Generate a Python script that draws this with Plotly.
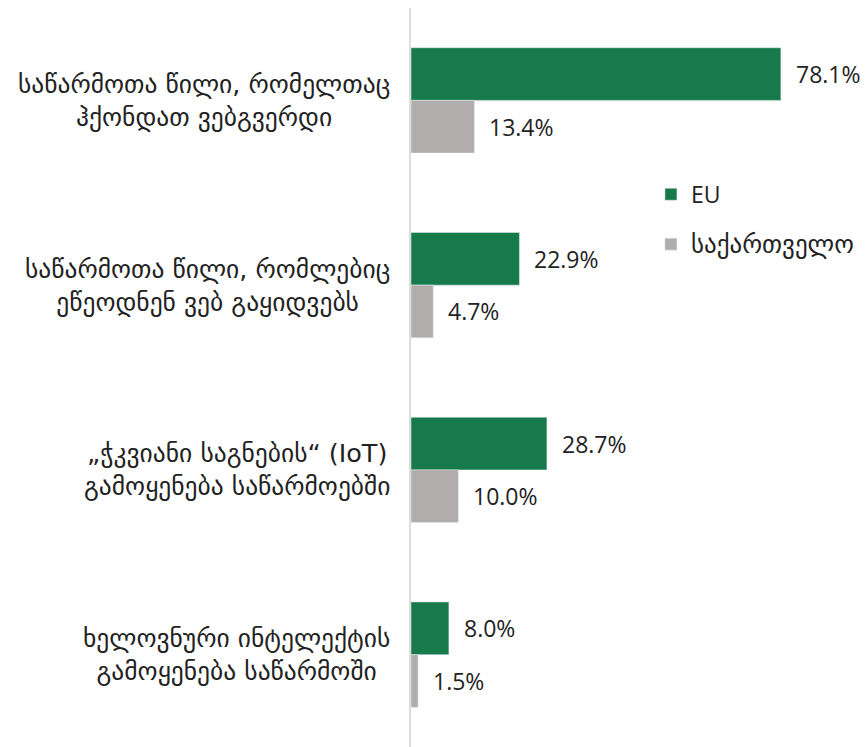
import plotly.graph_objects as go

categories = [
    "საწარმოთა წილი, რომელთაც<br>ჰქონდათ ვებგვერდი",
    "საწარმოთა წილი, რომლებიც<br>ეწეოდნენ ვებ გაყიდვებს",
    "„ჭკვიანი საგნების“ (IoT)<br>გამოყენება საწარმოებში",
    "ხელოვნური ინტელექტის<br>გამოყენება საწარმოში",
]
eu_values = [78.1, 22.9, 28.7, 8.0]
geo_values = [13.4, 4.7, 10.0, 1.5]
series_names = ["EU", "საქართველო"]

GREEN = "#177A4A"
GRAY = "#B1ADAD"
FONT = "Open Sans, DejaVu Sans, sans-serif"
GEO_FONT = "DejaVu Sans, sans-serif"

fig = go.Figure()
fig.add_trace(go.Bar(y=categories, x=eu_values, orientation="h", name=series_names[0],
                     marker_color=GREEN, legendgroup="a"))
fig.add_trace(go.Bar(y=categories, x=geo_values, orientation="h",
                     name=f"<span style='font-size:25px'>{series_names[1]}</span>",
                     marker_color=GRAY, legendgroup="b"))

annotations = []
for i, cat in enumerate(categories):
    annotations.append(dict(x=-0.042, xref="paper", y=i, yref="y", text=cat,
                            showarrow=False, xanchor="right", align="center",
                            font=dict(size=25.5, color="#222", family=GEO_FONT)))
    for vals, off in ((eu_values, -0.142), (geo_values, 0.142)):
        annotations.append(dict(x=vals[i], y=i + off, xref="x", yref="y",
                                text=f"{vals[i]:.1f}%", showarrow=False,
                                xanchor="left", xshift=13,
                                font=dict(size=23, color="#222", family=FONT)))

fig.update_layout(
    width=860, height=739,
    margin=dict(l=403, r=0, t=0, b=0, autoexpand=False),
    plot_bgcolor="white", paper_bgcolor="white",
    barmode="group", bargap=0.43, bargroupgap=0.0,
    font=dict(family=FONT, size=23, color="#222"),
    xaxis=dict(range=[0, 96.5], showgrid=False, showticklabels=False, zeroline=False,
               showline=False, fixedrange=True),
    yaxis=dict(autorange="reversed", showticklabels=False, showgrid=False, zeroline=False,
               showline=True, linecolor="#dddddd", linewidth=2, ticks=""),
    legend=dict(x=0.525, y=0.777, xanchor="left", yanchor="top", traceorder="grouped",
                tracegroupgap=17, font=dict(size=23, color="#222"), bgcolor="rgba(0,0,0,0)"),
    annotations=annotations,
)
fig.write_html("out.html")
